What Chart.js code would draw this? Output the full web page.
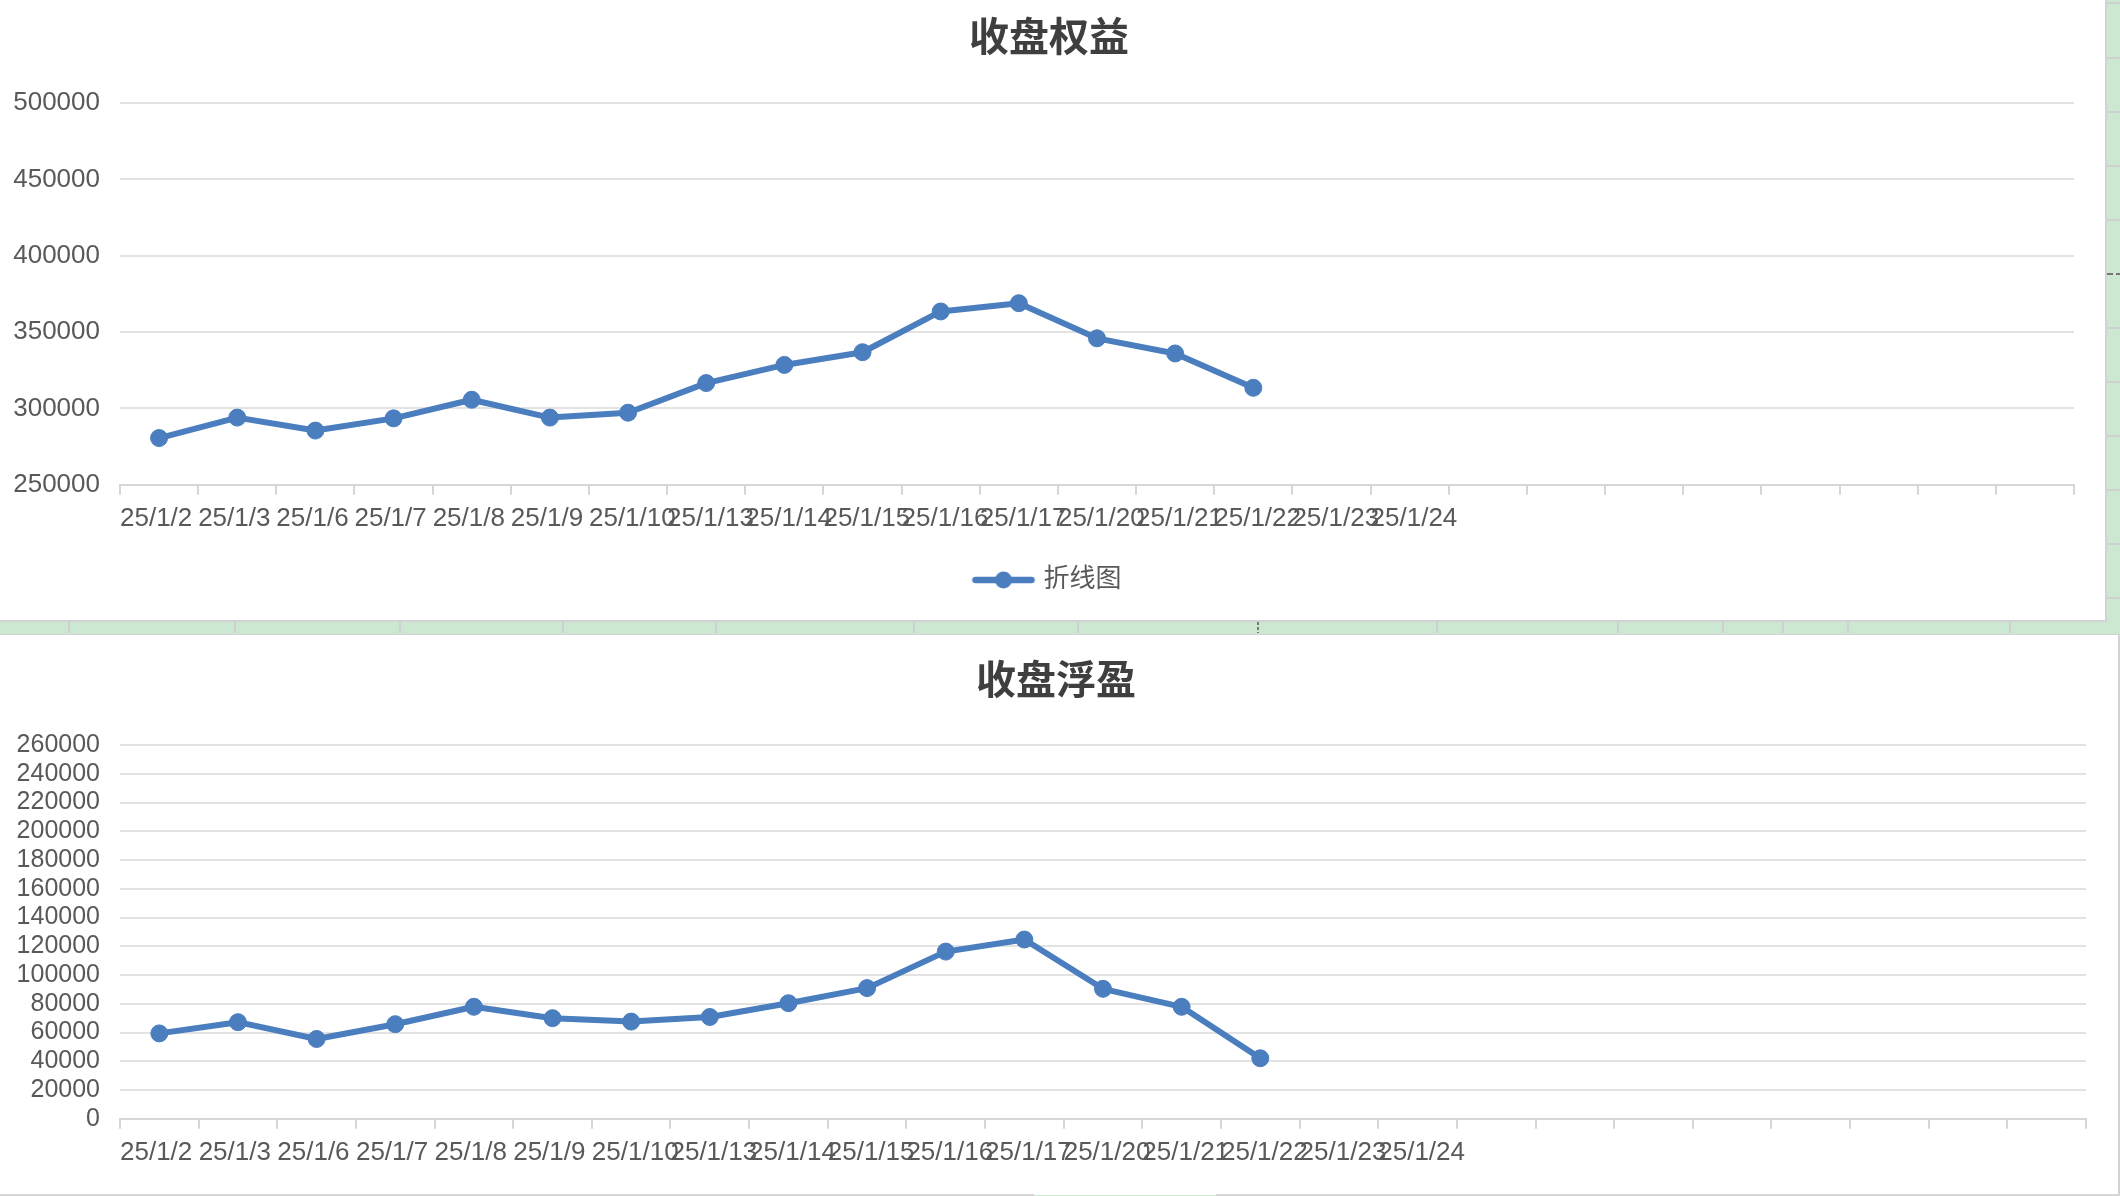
<!DOCTYPE html>
<html>
<head>
<meta charset="utf-8">
<script src="https://cdn.jsdelivr.net/npm/chart.js@4/dist/chart.umd.min.js"></script>
<style>
  html, body { margin: 0; padding: 0; }
  body { width: 2120px; height: 1196px; background: #cde8d0; position: relative; overflow: hidden; }
  .panel { position: absolute; background: #fff; }
  #p1 { left: 0; top: 0; width: 2105px; height: 620px; border-right: 2px solid #d2d2d2; border-bottom: 2px solid #d2d2d2; }
  #p2 { left: 0; top: 634px; width: 2118px; height: 560px; border-top: 1px solid #d2d2d2; border-right: 2px solid #d2d2d2; }
  .vsep { position: absolute; top: 622px; height: 11px; width: 2px; background: #d0d0d0; }
  .hsep { position: absolute; left: 2107px; width: 13px; height: 2px; background: #d0d0d0; }
  .bline { position: absolute; top: 1194px; height: 2px; background: #d6d6d6; }
  canvas { position: absolute; left: 0; top: 0; }
</style>
</head>
<body>
<div class="panel" id="p1"><canvas id="c1" width="2105" height="620" style="width:2105px;height:620px"></canvas></div>
<div class="panel" id="p2"><canvas id="c2" width="2118" height="560" style="width:2118px;height:560px"></canvas></div>
<div id="deco"></div>
<div class="bline" style="left:0;width:1034px"></div>
<div class="bline" style="left:1216px;width:904px"></div>
<script>
// ---- data ----
const dates = ['25/1/2','25/1/3','25/1/6','25/1/7','25/1/8','25/1/9','25/1/10','25/1/13','25/1/14','25/1/15','25/1/16','25/1/17','25/1/20','25/1/21','25/1/22','25/1/23','25/1/24','','','','','','','',''];
const equity = [280600, 294000, 285500, 293500, 305700, 294000, 297200, 316600, 328500, 336800, 363500, 368900, 345900, 336000, 313500];
const floating = [59400, 67200, 55500, 65800, 77900, 70000, 67600, 70800, 80400, 90900, 116300, 124700, 90400, 77900, 42100];
const equityTicks = { min: 250000, max: 500000, step: 50000 };
const floatTicks = { min: 0, max: 260000, step: 20000 };
const title1 = '收盘权益';
const title2 = '收盘浮盈';
const seriesName = '折线图';

// ---- decoration (spreadsheet background) ----
const deco = document.getElementById('deco');
[68, 234, 399, 562, 715, 913, 1077, 1436, 1617, 1722, 1782, 1847, 2009].forEach(x => {
  const d = document.createElement('div'); d.className = 'vsep'; d.style.left = x + 'px'; deco.appendChild(d);
});
(function(){ const d = document.createElement('div'); d.className='vsep'; d.style.left='1257px'; d.style.background='repeating-linear-gradient(#777 0 3px, transparent 3px 5px)'; deco.appendChild(d); })();
[2, 57, 111, 165, 219, 327, 381, 435, 489, 543, 597].forEach(y => {
  const d = document.createElement('div'); d.className = 'hsep'; d.style.top = y + 'px'; deco.appendChild(d);
});
(function(){ const d = document.createElement('div'); d.className='hsep'; d.style.top='273px'; d.style.background='repeating-linear-gradient(90deg,#777 0 6px, transparent 6px 9px)'; deco.appendChild(d); })();

// ---- chart helpers ----
const BLUE = '#4a7ebe';
const TXT = '#595959';
const GRID = '#e3e3e3';
const FONT = "'Liberation Sans', Arial, 'Noto Sans CJK SC', sans-serif";

function legendIcon() {
  const c = document.createElement('canvas');
  c.width = 64; c.height = 20;
  const g = c.getContext('2d');
  g.strokeStyle = BLUE; g.lineWidth = 6.5; g.lineCap = 'round';
  g.beginPath(); g.moveTo(4, 10); g.lineTo(60, 10); g.stroke();
  g.fillStyle = BLUE; g.beginPath(); g.arc(32, 10, 8.5, 0, Math.PI * 2); g.fill();
  return c;
}

function makeChart(id, title, values, tk, opts) {
  const n = dates.length;
  return new Chart(document.getElementById(id), {
    type: 'line',
    data: {
      labels: dates,
      datasets: [{
        label: seriesName,
        data: values,
        borderColor: BLUE,
        backgroundColor: BLUE,
        borderWidth: 6,
        tension: 0,
        borderJoinStyle: 'round',
        borderCapStyle: 'round',
        pointRadius: 8.5,
        pointHoverRadius: 8.5,
        pointBackgroundColor: BLUE,
        pointBorderColor: BLUE,
        pointBorderWidth: 1,
        fill: false
      }]
    },
    options: {
      responsive: false,
      animation: false,
      devicePixelRatio: 1,
      layout: { padding: { left: opts.padLeft, right: opts.padRight, top: 0, bottom: opts.padBottom } },
      plugins: {
        title: {
          display: true, text: title, color: '#3f3f3f',
          font: { family: "'Noto Sans CJK SC', sans-serif", size: 40, weight: 'bold', lineHeight: 1.2 },
          padding: { top: opts.titleTop, bottom: opts.titleBottom }
        },
        legend: opts.legend ? {
          display: true, position: 'bottom',
          labels: {
            usePointStyle: true, pointStyleWidth: 54, padding: 25,
            color: TXT, font: { family: FONT, size: 26 },
            generateLabels: (chart) => [{
              text: seriesName, pointStyle: legendIcon(), fillStyle: BLUE, strokeStyle: BLUE,
              lineWidth: 0, hidden: false, datasetIndex: 0, fontColor: TXT
            }]
          }
        } : { display: false },
        tooltip: { enabled: false }
      },
      scales: {
        x: {
          type: 'category',
          offset: true,
          grid: { display: true, drawOnChartArea: false, drawTicks: true, tickLength: 10, offset: true, color: '#d6d6d6', lineWidth: 2 },
          border: { display: true, color: '#d6d6d6', width: 2 },
          ticks: {
            autoSkip: false, maxRotation: 0, minRotation: 0,
            align: 'start', padding: 8,
            labelOffset: (ctx) => {
              const ca = ctx.chart.chartArea;
              return ca ? -((ca.right - ca.left) / n) / 2 : -39;
            },
            color: TXT, font: { family: FONT, size: 26 }
          }
        },
        y: {
          min: tk.min, max: tk.max,
          afterFit: (s) => { s.width = 120 - opts.padLeft; s._computeLabelArea = () => null; },
          grid: { color: GRID, lineWidth: 2, drawTicks: false },
          border: { display: false },
          ticks: {
            stepSize: tk.step, autoSkip: false, padding: 20,
            color: TXT, font: { family: FONT, size: opts.ySize },
            callback: (v) => String(v)
          }
        }
      }
    }
  });
}

makeChart('c1', title1, equity, equityTicks, { padLeft: 24, padRight: 31, padBottom: 17, titleTop: 12, titleBottom: 43, legend: true, ySize: 26 });
makeChart('c2', title2, floating, floatTicks, { padLeft: 26, padRight: 32, padBottom: 19, titleTop: 20, titleBottom: 42, legend: false, ySize: 25 });
</script>
</body>
</html>
